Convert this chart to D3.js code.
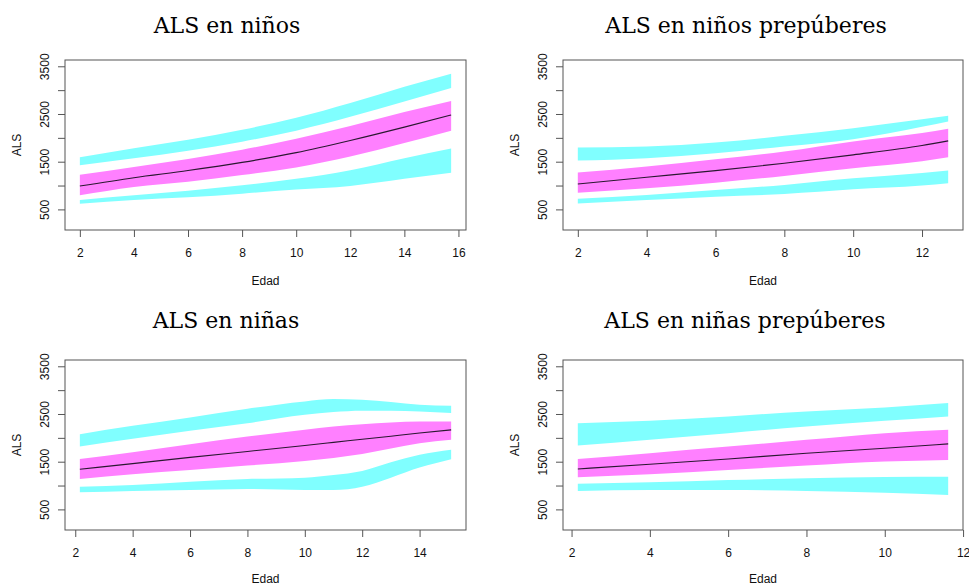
<!DOCTYPE html>
<html><head><meta charset="utf-8">
<script src="https://cdn.jsdelivr.net/npm/d3@7"></script>
<style>body{margin:0;background:#fff}svg{display:block}</style>
</head><body><svg id="c" width="969" height="586"></svg>
<script>
// ---------- data ----------
const titulos = ["ALS en niños", "ALS en niños prepúberes", "ALS en niñas", "ALS en niñas prepúberes"];
const yTicks = [500, 1000, 1500, 2000, 2500, 3000, 3500];
const yTickLabels = ["500", "", "1500", "", "2500", "", "3500"];
const yLimites = [200, 3500];
const xTicks1 = [2, 4, 6, 8, 10, 12, 14, 16];
const xTicks2 = [2, 4, 6, 8, 10, 12];
const xTicks3 = [2, 4, 6, 8, 10, 12, 14];
const xTicks4 = [2, 4, 6, 8, 10, 12];

// Panel 1: ALS en niños
const ninos_edad     = [2, 4, 6, 8, 10, 12, 14, 15.73];
const ninos_alto_sup = [1594, 1780, 1960, 2170, 2420, 2730, 3070, 3346];
const ninos_alto_inf = [1425, 1570, 1730, 1920, 2150, 2440, 2760, 3045];
const ninos_ic_sup   = [1228, 1390, 1555, 1750, 1980, 2250, 2540, 2770];
const ninos_mediana  = [990, 1165, 1315, 1485, 1690, 1945, 2225, 2480];
const ninos_ic_inf   = [794, 970, 1080, 1220, 1380, 1610, 1890, 2150];
const ninos_bajo_sup = [695, 795, 890, 1005, 1140, 1320, 1570, 1775];
const ninos_bajo_inf = [618, 695, 752, 830, 915, 990, 1140, 1270];

// Panel 2: ALS en niños prepúberes
const nprep_edad     = [2, 4, 6, 8, 10, 12, 12.76];
const nprep_alto_sup = [1797, 1818, 1902, 2042, 2203, 2390, 2463];
const nprep_alto_inf = [1523, 1573, 1678, 1818, 1972, 2230, 2343];
const nprep_ic_sup   = [1271, 1397, 1552, 1713, 1923, 2100, 2189];
const nprep_mediana  = [1033, 1173, 1313, 1467, 1643, 1840, 1937];
const nprep_ic_inf   = [851, 942, 1061, 1201, 1362, 1510, 1594];
const nprep_bajo_sup = [724, 801, 907, 1012, 1152, 1265, 1313];
const nprep_bajo_inf = [626, 696, 767, 823, 921, 1000, 1047];

// Panel 3: ALS en niñas
const ninas_edad     = [2.16, 4, 6, 8, 10, 11, 12, 13, 14, 15.1];
const ninas_alto_sup = [2077, 2252, 2428, 2610, 2764, 2813, 2799, 2750, 2694, 2673];
const ninas_alto_inf = [1818, 1979, 2147, 2308, 2484, 2540, 2568, 2568, 2554, 2519];
const ninas_ic_sup   = [1559, 1699, 1867, 2028, 2168, 2238, 2287, 2322, 2343, 2343];
const ninas_mediana  = [1341, 1460, 1590, 1715, 1840, 1905, 1970, 2035, 2100, 2168];
const ninas_ic_inf   = [1138, 1236, 1327, 1418, 1516, 1580, 1660, 1775, 1885, 1958];
const ninas_bajo_sup = [977, 1012, 1082, 1138, 1166, 1222, 1306, 1488, 1643, 1748];
const ninas_bajo_inf = [858, 886, 907, 928, 907, 907, 977, 1166, 1376, 1551];

// Panel 4: ALS en niñas prepúberes
const naprep_edad     = [2.16, 4, 6, 8, 10, 11.62];
const naprep_alto_sup = [2308, 2357, 2449, 2554, 2638, 2729];
const naprep_alto_inf = [1839, 1958, 2098, 2238, 2357, 2449];
const naprep_ic_sup   = [1559, 1678, 1818, 1958, 2098, 2168];
const naprep_mediana  = [1348, 1446, 1558, 1678, 1783, 1874];
const naprep_ic_inf   = [1173, 1236, 1327, 1418, 1502, 1537];
const naprep_bajo_sup = [1040, 1068, 1117, 1152, 1180, 1187];
const naprep_bajo_inf = [886, 907, 907, 886, 851, 802];

// ---------- layout ----------
const boxes = [
  {l: 65, r: 466, t: 60, b: 230, tx: 227, ty: 33},
  {l: 563, r: 963, t: 60, b: 230, tx: 746, ty: 33},
  {l: 65, r: 466, t: 360, b: 530, tx: 226, ty: 328},
  {l: 563, r: 963, t: 360, b: 530, tx: 745, ty: 328}
];

function rows(edad, altoSup, altoInf, icSup, med, icInf, bajoSup, bajoInf) {
  return edad.map((e, i) => ({edad: e, altoSup: altoSup[i], altoInf: altoInf[i], icSup: icSup[i],
    med: med[i], icInf: icInf[i], bajoSup: bajoSup[i], bajoInf: bajoInf[i]}));
}
const tablas = [
  rows(ninos_edad, ninos_alto_sup, ninos_alto_inf, ninos_ic_sup, ninos_mediana, ninos_ic_inf, ninos_bajo_sup, ninos_bajo_inf),
  rows(nprep_edad, nprep_alto_sup, nprep_alto_inf, nprep_ic_sup, nprep_mediana, nprep_ic_inf, nprep_bajo_sup, nprep_bajo_inf),
  rows(ninas_edad, ninas_alto_sup, ninas_alto_inf, ninas_ic_sup, ninas_mediana, ninas_ic_inf, ninas_bajo_sup, ninas_bajo_inf),
  rows(naprep_edad, naprep_alto_sup, naprep_alto_inf, naprep_ic_sup, naprep_mediana, naprep_ic_inf, naprep_bajo_sup, naprep_bajo_inf)
];
const xTicksAll = [xTicks1, xTicks2, xTicks3, xTicks4];

const svg = d3.select("#c");
const CYAN = "#80ffff", MAG = "#ff80ff", AXIS = "#555";
const sans = "'Liberation Sans', Arial, sans-serif";

function pad(ext) { const r = ext[1] - ext[0]; return [ext[0] - 0.04 * r, ext[1] + 0.04 * r]; }

tablas.forEach((data, k) => {
  const b = boxes[k];
  const x = d3.scaleLinear().domain(pad(d3.extent(data, d => d.edad))).range([b.l, b.r]);
  const y = d3.scaleLinear().domain(pad(yLimites)).range([b.b, b.t]);
  const g = svg.append("g");
  const curve = d3.curveMonotoneX;
  const band = (lo, hi) => d3.area().x(d => x(d.edad)).y0(d => y(d[lo])).y1(d => y(d[hi])).curve(curve);

  g.append("path").datum(data).attr("d", band("altoInf", "altoSup")).attr("fill", CYAN);
  g.append("path").datum(data).attr("d", band("bajoInf", "bajoSup")).attr("fill", CYAN);
  g.append("path").datum(data).attr("d", band("icInf", "icSup")).attr("fill", MAG);
  g.append("path").datum(data)
    .attr("d", d3.line().x(d => x(d.edad)).y(d => y(d.med)).curve(curve))
    .attr("fill", "none").attr("stroke", "#2a1830").attr("stroke-width", 1.1);

  // box
  g.append("rect").attr("x", b.l).attr("y", b.t).attr("width", b.r - b.l).attr("height", b.b - b.t)
    .attr("fill", "none").attr("stroke", AXIS).attr("stroke-width", 1);

  // x axis
  const xa = g.append("g").attr("transform", `translate(0,${b.b})`)
    .call(d3.axisBottom(x).tickValues(xTicksAll[k]).tickSize(7).tickPadding(11).tickSizeOuter(0));
  xa.select(".domain").remove();
  xa.selectAll("line").attr("stroke", AXIS);
  xa.selectAll("text").attr("font-family", sans).attr("font-size", 12).attr("fill", "#111");

  // y axis
  const ya = g.append("g").attr("transform", `translate(${b.l},0)`)
    .call(d3.axisLeft(y).tickValues(yTicks).tickSize(7).tickFormat((d, i) => yTickLabels[i]));
  ya.select(".domain").remove();
  ya.selectAll("line").attr("stroke", AXIS);
  ya.selectAll("text").attr("font-family", sans).attr("font-size", 12).attr("fill", "#111")
    .attr("x", null).attr("dy", null).attr("text-anchor", "middle")
    .attr("transform", "translate(-16,0) rotate(-90)");

  // axis titles
  g.append("text").attr("x", (b.l + b.r) / 2).attr("y", Math.min(b.b + 55, 583)).attr("text-anchor", "middle")
    .attr("font-family", sans).attr("font-size", 12).attr("fill", "#111").text("Edad");
  g.append("text").attr("transform", `translate(${b.l - 44},${(b.t + b.b) / 2}) rotate(-90)`)
    .attr("text-anchor", "middle").attr("font-family", sans).attr("font-size", 12).attr("fill", "#111").text("ALS");

  // title
  g.append("text").attr("x", b.tx).attr("y", b.ty).attr("text-anchor", "middle")
    .attr("font-family", "'DejaVu Serif', serif").attr("font-size", 22).attr("fill", "#000")
    .text(titulos[k]);
});
</script></body></html>
